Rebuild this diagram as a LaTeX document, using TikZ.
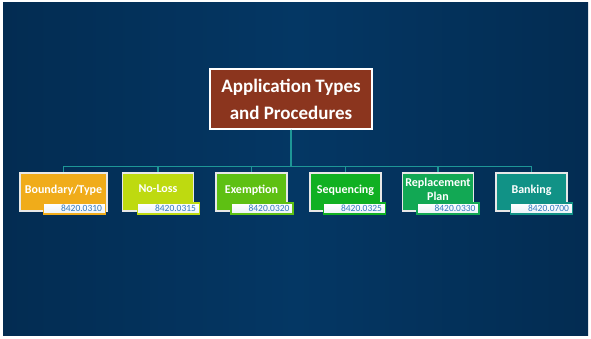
\documentclass[tikz,border=0pt]{standalone}
\usepackage{fontspec}
\setmainfont{Carlito}
\usepackage{tikz}
\usetikzlibrary{shapes,positioning,calc}

\definecolor{bgmid}{RGB}{4,55,100}
\definecolor{bgedge}{RGB}{3,44,82}
\definecolor{titlered}{RGB}{139,53,30}
\definecolor{branchcol}{RGB}{30,150,150}
\definecolor{tagtext}{RGB}{50,120,190}
\definecolor{cBoundary}{RGB}{240,172,26}
\definecolor{cNoLoss}{RGB}{190,218,16}
\definecolor{cExemption}{RGB}{94,192,19}
\definecolor{cSequencing}{RGB}{16,176,34}
\definecolor{cReplacement}{RGB}{18,168,84}
\definecolor{cBanking}{RGB}{17,146,134}

\tikzset{
  branch/.style={draw=branchcol, line width=1.5},
  titlebox/.style={draw=white, line width=1.5, fill=titlered, text=white,
    font=\fontsize{19}{27}\selectfont\bfseries, align=center,
    minimum width=162, minimum height=60, inner sep=0pt},
  procbox/.style={draw={rgb,255:red,232;green,232;blue,232}, line width=1.2, fill=#1,
    text=white, font=\fontsize{12}{14}\selectfont\bfseries, align=center, text depth=6pt,
    minimum width=71, minimum height=38, inner sep=0pt},
  codetag/.style={draw=#1, line width=1.2, top color=white, bottom color={rgb,255:red,235;green,242;blue,248},
    text=tagtext, font=\fontsize{9.5}{10}\selectfont, text width=55, align=right,
    minimum height=11, inner xsep=3.5, inner ysep=0.3}
}

\begin{document}
\begin{tikzpicture}[x=1pt,y=1pt,yscale=-1,xscale=1]

\useasboundingbox (0,0) rectangle (591,339);
%Shape: Rectangle (margin and background)
\fill [white] (0,0) rectangle (591,339);
\shade [left color=bgedge, right color=bgedge, middle color=bgmid] (3,3) rectangle (588,335);

% Title Node
\node [titlebox] (title) at (291,99) {Application Types\\and Procedures};

% Procedure Nodes
\node [procbox=cBoundary, minimum width=87] (boundary) at (63.5,192) {Boundary/Type};
\node [procbox=cNoLoss] (noloss) at (158,192) {No-Loss};
\node [procbox=cExemption] (exemption) at (251.5,192) {Exemption};
\node [procbox=cSequencing] (sequencing) at (345.5,192) {Sequencing};
\node [procbox=cReplacement] (replacement) at (438,192) {Replacement\\Plan};
\node [procbox=cBanking] (banking) at (531.5,192) {Banking};

%Connectors
\draw [branch] (title.south) -- ++(0,37) -| (boundary.north);
\draw [branch] (title.south) -- ++(0,37) -| (noloss.north);
\draw [branch] (title.south) -- ++(0,37) -| (exemption.north);
\draw [branch] (title.south) -- ++(0,37) -| (sequencing.north);
\draw [branch] (title.south) -- ++(0,37) -| (replacement.north);
\draw [branch] (title.south) -- ++(0,37) -| (banking.north);

% Code Tags
\node [codetag=cBoundary] (boundarytag) at (74.5,208.5) {8420.0310};
\node [codetag=cNoLoss] (nolosstag) at (168.5,208.5) {8420.0315};
\node [codetag=cExemption] (exemptiontag) at (262,208.5) {8420.0320};
\node [codetag=cSequencing] (sequencingtag) at (354.5,208.5) {8420.0325};
\node [codetag=cReplacement] (replacementtag) at (448,208.5) {8420.0330};
\node [codetag=cBanking] (bankingtag) at (541.5,208.5) {8420.0700};

\end{tikzpicture}
\end{document}
